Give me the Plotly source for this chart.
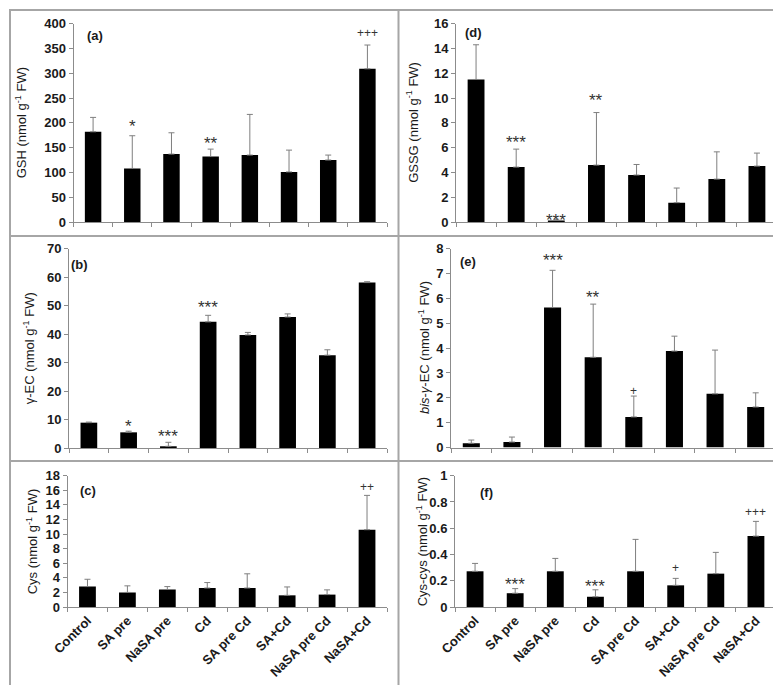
import plotly.graph_objects as go

categories = ["Control", "SA pre", "NaSA pre", "Cd", "SA pre Cd", "SA+Cd", "NaSA pre Cd", "NaSA+Cd"]

gsh_mean = [182, 108, 137, 132, 135, 101, 125, 309]
gsh_err = [29, 66, 43, 15, 82, 44, 10, 48]
gsh_sig = [("SA pre", "*", 200), ("Cd", "**", 166), ("NaSA+Cd", "+++", 382)]

gec_mean = [8.9, 5.5, 0.6, 44.3, 39.7, 46.0, 32.6, 58.1]
gec_err = [0.2, 0.4, 1.4, 2.3, 0.9, 1.1, 1.9, 0.3]
gec_sig = [("SA pre", "*", 9.1), ("NaSA pre", "***", 5.4), ("Cd", "***", 50.6)]

cys_mean = [2.8, 2.0, 2.4, 2.6, 2.6, 1.6, 1.7, 10.6]
cys_err = [1.0, 0.9, 0.4, 0.75, 1.95, 1.15, 0.65, 4.7]
cys_sig = [("NaSA+Cd", "++", 16.4)]

gssg_mean = [11.5, 4.43, 0.12, 4.59, 3.79, 1.56, 3.46, 4.51]
gssg_err = [2.8, 1.45, 0.1, 4.24, 0.85, 1.18, 2.2, 1.05]
gssg_sig = [("SA pre", "***", 6.74), ("NaSA pre", "***", 0.43), ("Cd", "**", 10.1)]

bis_mean = [0.17, 0.22, 5.63, 3.63, 1.23, 3.88, 2.16, 1.63]
bis_err = [0.13, 0.2, 1.5, 2.14, 0.84, 0.6, 1.76, 0.57]
bis_sig = [("NaSA pre", "***", 7.68), ("Cd", "**", 6.2), ("SA pre Cd", "+", 2.26)]

cc_mean = [0.272, 0.105, 0.272, 0.078, 0.272, 0.165, 0.254, 0.54]
cc_err = [0.06, 0.035, 0.098, 0.053, 0.243, 0.053, 0.162, 0.112]
cc_sig = [("SA pre", "***", 0.2), ("Cd", "***", 0.19), ("SA+Cd", "+", 0.297), ("NaSA+Cd", "+++", 0.723)]

W, H = 781, 685
FONT = "Arial, Liberation Sans, sans-serif"
AXC = "#8c8c8c"
TXT = "#1a1a1a"


def px_x(p):
    return p / W


def px_y(p):
    return 1 - p / H


panels = [
    ("a", gsh_mean, gsh_err, gsh_sig, 400, 50, (65.5, 379), (15.7, 214),
     "GSH (nmol g<sup>-1</sup> FW)", 12.5, "(a)", (87, 28), False),
    ("b", gec_mean, gec_err, gec_sig, 70, 10, (61, 379), (240.7, 440),
     "γ-EC (nmol g<sup>-1</sup> FW)", 21, "(b)", (71, 256), False),
    ("c", cys_mean, cys_err, cys_sig, 18, 2, (59.5, 379), (467.7, 599),
     "Cys (nmol g<sup>-1</sup> FW)", 24, "(c)", (80, 482), True),
    ("d", gssg_mean, gssg_err, gssg_sig, 16, 2, (448, 769), (15.7, 214),
     "GSSG (nmol g<sup>-1</sup> FW)", 404, "(d)", (465, 24), False),
    ("e", bis_mean, bis_err, bis_sig, 8, 1, (443, 768), (240.7, 439.5),
     "<i>bis</i>-<i>γ</i>-EC (nmol g<sup>-1</sup> FW)", 416, "(e)", (460, 254), False),
    ("f", cc_mean, cc_err, cc_sig, 1, 0.2, (447, 768), (467.7, 599),
     "Cys-cys (nmol g<sup>-1</sup> FW)", 414, "(f)", (478, 484), True),
]

fig = go.Figure()
annotations = []
layout = {}

for i, (key, mean, err, sig, ymax, dtick, xd, yd, title, tx, lab, lxy, showx) in enumerate(panels):
    n = "" if i == 0 else str(i + 1)
    xa, ya = "x" + n, "y" + n
    fig.add_trace(go.Bar(
        x=categories, y=mean, xaxis=xa, yaxis=ya,
        marker=dict(color="black", line=dict(width=0)),
        error_y=dict(type="data", array=err, arrayminus=[0] * len(err), symmetric=False,
                     color="#7f7f7f", thickness=1, width=3),
        showlegend=False, hoverinfo="skip",
    ))
    layout["xaxis" + n] = dict(
        domain=[px_x(xd[0]), px_x(xd[1])], anchor=ya,
        type="category", showline=True, linecolor=AXC, linewidth=1,
        ticks="outside", ticklen=4, tickcolor=AXC, tickson="boundaries",
        showgrid=False, zeroline=False, showticklabels=showx, tickangle=-45,
        tickfont=dict(family=FONT, size=13, color=TXT, weight="bold"),
        automargin=False, range=[-0.5, len(categories) - 0.5], fixedrange=True,
    )
    layout["yaxis" + n] = dict(
        domain=[px_y(yd[1]), px_y(yd[0])], anchor=xa,
        range=[0, ymax], dtick=dtick, tick0=0,
        showline=True, linecolor=AXC, linewidth=1,
        ticks="outside", ticklen=4, tickcolor=AXC,
        showgrid=False, zeroline=False,
        tickfont=dict(family=FONT, size=13, color=TXT, weight="bold"),
        automargin=False, fixedrange=True,
    )
    annotations.append(dict(
        text=title, textangle=-90, xref="paper", yref="paper",
        x=px_x(tx), y=px_y((yd[0] + yd[1]) / 2), xanchor="center", yanchor="middle",
        showarrow=False, font=dict(family=FONT, size=13, color=TXT),
    ))
    annotations.append(dict(
        text=lab, xref="paper", yref="paper", x=px_x(lxy[0]), y=px_y(lxy[1]),
        xanchor="center", yanchor="middle", showarrow=False,
        font=dict(family=FONT, size=13, color=TXT, weight="bold"),
    ))
    for cat, s, yv in sig:
        star = "*" in s
        annotations.append(dict(
            text=s, xref=xa, yref=ya, x=cat, y=yv, xanchor="center", yanchor="middle",
            yshift=-4 if star else 0, showarrow=False,
            font=dict(family=FONT, size=17 if star else 12, color="#333333"),
        ))

shapes = []
GRAY = "#a6a6a6"
shapes.append(dict(type="rect", xref="paper", yref="paper",
                   x0=px_x(2), x1=px_x(779), y0=px_y(682), y1=px_y(2),
                   line=dict(color=GRAY, width=2)))
shapes.append(dict(type="line", xref="paper", yref="paper",
                   x0=px_x(390.5), x1=px_x(390.5), y0=px_y(682), y1=px_y(2),
                   line=dict(color=GRAY, width=2)))
for yy in (228, 453):
    shapes.append(dict(type="line", xref="paper", yref="paper",
                       x0=px_x(2), x1=px_x(779), y0=px_y(yy), y1=px_y(yy),
                       line=dict(color=GRAY, width=2)))

fig.update_layout(
    width=W, height=H, margin=dict(l=0, r=0, t=0, b=0),
    paper_bgcolor="white", plot_bgcolor="white",
    bargap=0.58, annotations=annotations, shapes=shapes,
    font=dict(family=FONT, color=TXT), **layout,
)

fig.write_html("out.html", config={"displayModeBar": False})
